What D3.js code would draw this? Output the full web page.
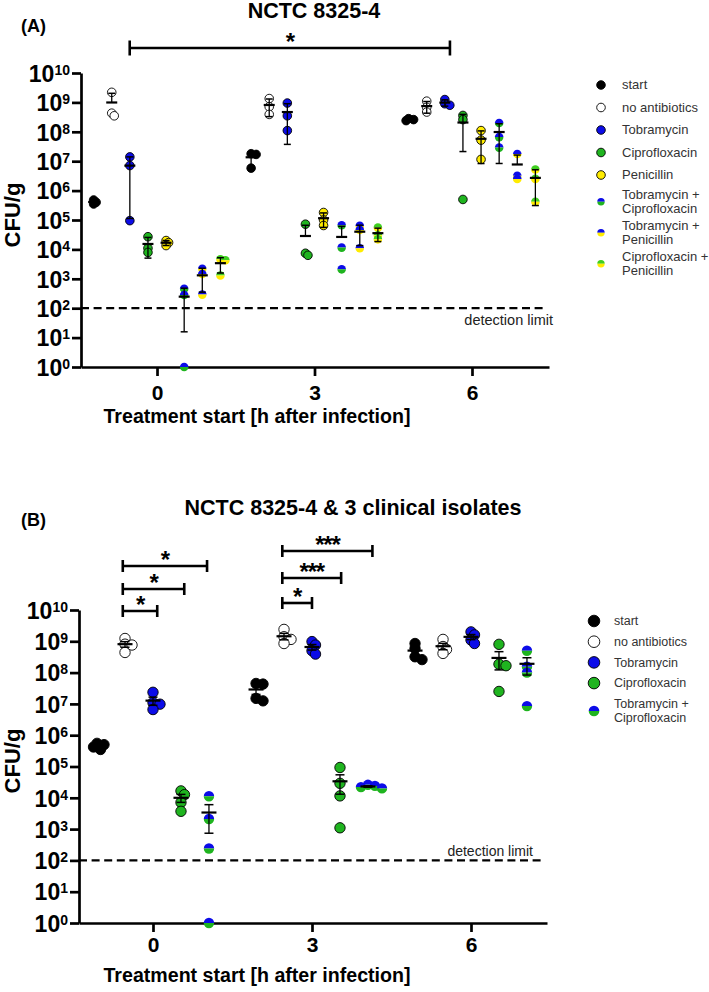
<!DOCTYPE html>
<html lang="en">
<head>
<meta charset="utf-8">
<title>CFU/g after treatment</title>
<script src="https://cdn.jsdelivr.net/npm/d3@7"></script>
<style>
  body { margin: 0; background: #fff; }
  svg text { font-family: "Liberation Sans", Arial, sans-serif; }
</style>
</head>
<body>
<script>
// ---- data: CFU/g per mouse ----
var times = [0, 3, 6];
var exponents = [0, 1, 2, 3, 4, 5, 6, 7, 8, 9, 10];
var detectionLimit = 100;

var groupsA = ["start", "no antibiotics", "Tobramycin", "Ciprofloxacin", "Penicillin",
  "Tobramycin + Ciprofloxacin", "Tobramycin + Penicillin", "Ciprofloxacin + Penicillin"];
var groupsB = ["start", "no antibiotics", "Tobramycin", "Ciprofloxacin", "Tobramycin + Ciprofloxacin"];

// panel A, one row per time point (0, 3, 6 h)
var aStart      = [[4.8e5, 4.0e5, 3.5e5], [1.8e7, 1.7e7, 5.8e6], [2.8e8, 2.4e8, 2.6e8]];
var aNoAb       = [[2.2e9, 4.3e8, 3.5e8], [1.35e9, 7.1e8, 3.9e8], [1.1e9, 6.8e8, 4.7e8]];
var aTobra      = [[1.4e7, 7.1e6, 9.5e4], [9.5e8, 3.5e8, 1.1e8], [1.25e9, 9e8, 8e8]];
var aCipro      = [[2.7e4, 1.1e4, 7.9e3], [7.2e4, 7.4e3, 6.3e3], [3.6e8, 2.6e8, 5e5]];
var aPen        = [[2e4, 1.7e4, 1.35e4], [1.8e5, 1e5, 6.5e4], [1.1e8, 5.2e7, 1.15e7]];
var aTobraCipro = [[460, 280, 1], [6.6e4, 1.15e4, 2.1e3], [2e8, 6.6e7, 2.9e7]];
var aTobraPen   = [[2.2e3, 1.45e3, 290], [6.3e4, 4.6e4, 1.1e4], [1.75e7, 3.2e6, 2.5e6]];
var aCiproPen   = [[4.6e3, 4.3e3, 1.3e3], [5.5e4, 3e4, 2.2e4], [5.2e6, 2.5e6, 4.2e5]];

// panel B
var bStart      = [[5.5e5, 5e5, 4.2e5, 3.5e5], [4.5e7, 4.3e7, 1.5e7, 1.25e7], [8.5e8, 5.9e8, 3.2e8, 2.6e8]];
var bNoAb       = [[1.23e9, 8.1e8, 7.6e8, 4.4e8], [2.4e9, 1.4e9, 1.15e9, 8.5e8], [1.15e9, 6.8e8, 5.5e8, 4.1e8]];
var bTobra      = [[2.35e7, 1.1e7, 9.8e6, 6.6e6], [9.8e8, 7.6e8, 5e8, 3.9e8], [2e9, 1.6e9, 1.1e9, 8.5e8]];
var bCipro      = [[1.66e4, 1.26e4, 7.1e3, 3.7e3], [9.3e4, 2.9e4, 1.15e4, 1.1e3], [8e8, 1.86e8, 1.66e8, 2.5e7]];
var bTobraCipro = [[1.12e4, 2.1e3, 240, 1], [2.6e4, 2.4e4, 2.2e4, 2e4], [5e8, 1.55e8, 1e8, 8.5e6]];

// significance brackets, ends in hours
var sigA = [{ from: -0.52, to: 5.58, label: "*" }];
var sigB = [
  { from: -0.57, to: 0.08, label: "*" },
  { from: -0.57, to: 0.59, label: "*" },
  { from: -0.57, to: 1.02, label: "*" },
  { from: 2.44, to: 3.0, label: "*" },
  { from: 2.44, to: 3.55, label: "***" },
  { from: 2.44, to: 4.14, label: "***" }
];

// ---- styles ----
var blue = "#0c0ce8", green = "#1fb41f", lime = "#3fcf1f", yellow = "#ffec00";
var look = {
  "start": { fill: "#000" },
  "no antibiotics": { fill: "#fff" },
  "Tobramycin": { fill: blue },
  "Ciprofloxacin": { fill: green },
  "Penicillin": { fill: yellow },
  "Tobramycin + Ciprofloxacin": { top: blue, bottom: green },
  "Tobramycin + Penicillin": { top: blue, bottom: yellow },
  "Ciprofloxacin + Penicillin": { top: lime, bottom: yellow }
};

var svg = d3.select("body").append("svg").attr("width", 709).attr("height", 992);

function marker(g, cx, cy, r, st) {
  if (st.top) {
    var arc = d3.arc().innerRadius(0).outerRadius(r);
    g.append("path").attr("transform", "translate(" + cx + "," + cy + ")")
      .attr("d", arc({ startAngle: -Math.PI / 2, endAngle: Math.PI / 2 })).attr("fill", st.top);
    g.append("path").attr("transform", "translate(" + cx + "," + cy + ")")
      .attr("d", arc({ startAngle: Math.PI / 2, endAngle: 3 * Math.PI / 2 })).attr("fill", st.bottom);
  } else {
    g.append("circle").attr("cx", cx).attr("cy", cy).attr("r", r)
      .attr("fill", st.fill).attr("stroke", "#000").attr("stroke-width", 0.9);
  }
}

// spread overlapping points sideways
function spread(vals, y, minD, step) {
  var order = vals.map(function (v, i) { return i; }).sort(function (a, b) { return vals[b] - vals[a]; });
  var placed = [], off = [];
  order.forEach(function (i) {
    var py = y(vals[i]);
    for (var k = 0; k < 30; k++) {
      var dx = k === 0 ? 0 : (k % 2 ? 1 : -1) * Math.ceil(k / 2) * step;
      var ok = placed.every(function (p) { return Math.hypot(p.dx - dx, p.py - py) >= minD; });
      if (ok) { off[i] = dx; placed.push({ dx: dx, py: py }); break; }
    }
  });
  return off;
}

function drawPanel(p) {
  var g = svg.append("g");
  var x = d3.scaleLinear().domain(p.xDomain).range([p.left, p.right]);
  var y = d3.scaleLog().domain([1, 1e10]).range([p.bottom, p.top]);
  var n = p.groups.length;

  // axes
  var yAxis = d3.axisLeft(y).tickValues(exponents.map(function (e) { return Math.pow(10, e); }))
    .tickSize(9).tickSizeOuter(0).tickPadding(2);
  var ya = g.append("g").attr("transform", "translate(" + p.left + ",0)").call(yAxis)
    .attr("font-size", 23).attr("font-weight", "bold").attr("font-family", null);
  ya.select(".domain").attr("stroke-width", 2.7);
  ya.selectAll(".tick line").attr("stroke-width", 2.7);
  ya.selectAll(".tick text").attr("dy", "0.36em").attr("fill", "#000").text(null).each(function (d) {
    var t = d3.select(this);
    t.append("tspan").text("10");
    t.append("tspan").attr("dy", -7).attr("font-size", 14).text(Math.round(Math.log10(d)));
  });

  var xAxis = d3.axisBottom(x).tickValues(times).tickSize(9).tickSizeOuter(0).tickPadding(p.xPad);
  var xa = g.append("g").attr("transform", "translate(0," + p.bottom + ")").call(xAxis)
    .attr("font-size", 21).attr("font-weight", "bold").attr("font-family", null);
  xa.select(".domain").attr("stroke-width", 2.7);
  xa.selectAll(".tick line").attr("stroke-width", 2.7);
  xa.selectAll(".tick text").attr("fill", "#000");

  // titles and labels
  g.append("text").attr("x", p.titleX).attr("y", p.titleY).attr("text-anchor", "middle")
    .attr("font-size", 21.5).attr("font-weight", "bold").text(p.title);
  g.append("text").attr("x", 21).attr("y", p.letterY).attr("font-size", 18)
    .attr("font-weight", "bold").text(p.letter);
  g.append("text").attr("transform", "translate(19.5," + p.yLabelY + ") rotate(-90)")
    .attr("text-anchor", "middle").attr("font-size", 22).attr("font-weight", "bold").text("CFU/g");
  g.append("text").attr("x", 257).attr("y", p.xLabelY).attr("text-anchor", "middle")
    .attr("font-size", 19.6).attr("font-weight", "bold").text("Treatment start [h after infection]");

  // detection limit
  g.append("line").attr("x1", p.left).attr("x2", p.right - 2)
    .attr("y1", y(detectionLimit)).attr("y2", y(detectionLimit))
    .attr("stroke", "#000").attr("stroke-width", 2.3).attr("stroke-dasharray", "8,4.6");
  g.append("text").attr("x", p.dlX).attr("y", y(detectionLimit) + p.dlDy).attr("text-anchor", "end")
    .attr("font-size", p.dlSize).attr("fill", "#222").text("detection limit");

  // points, mean and error bars
  times.forEach(function (t, ti) {
    p.groups.forEach(function (name, gi) {
      var vals = p.series[gi][ti];
      var cx = x(t + (gi - (n - 1) / 2) * p.groupStep);
      var off = spread(vals, y, p.minD, p.step);
      vals.forEach(function (v, i) { marker(g, cx + off[i], y(v), p.r, look[name]); });

      var m = d3.mean(vals), sd = d3.deviation(vals);
      var err = p.sem ? sd / Math.sqrt(vals.length) : sd;
      var hi = m + err, lo = m - err;
      var eb = g.append("g").attr("stroke", "#000");
      eb.append("line").attr("x1", cx).attr("x2", cx).attr("y1", y(lo > 0 ? Math.max(lo, 1) : m)).attr("y2", y(hi))
        .attr("stroke-width", 1.3);
      eb.append("line").attr("x1", cx - p.capW / 2).attr("x2", cx + p.capW / 2)
        .attr("y1", y(hi)).attr("y2", y(hi)).attr("stroke-width", 1.5);
      if (lo > 0) {
        eb.append("line").attr("x1", cx - p.capW / 2).attr("x2", cx + p.capW / 2)
          .attr("y1", y(Math.max(lo, 1))).attr("y2", y(Math.max(lo, 1))).attr("stroke-width", 1.5);
      }
      eb.append("line").attr("x1", cx - p.meanW / 2).attr("x2", cx + p.meanW / 2)
        .attr("y1", y(m)).attr("y2", y(m)).attr("stroke-width", 2.2);
    });
  });

  // significance brackets
  p.sig.forEach(function (s, i) {
    var by = p.sigY[i], x1 = x(s.from), x2 = x(s.to);
    var sg = g.append("g").attr("stroke", "#000").attr("stroke-width", 2.6);
    sg.append("line").attr("x1", x1).attr("x2", x2).attr("y1", by).attr("y2", by);
    sg.append("line").attr("x1", x1).attr("x2", x1).attr("y1", by - p.sigCap).attr("y2", by + p.sigCap);
    sg.append("line").attr("x1", x2).attr("x2", x2).attr("y1", by - p.sigCap).attr("y2", by + p.sigCap);
    g.append("text").attr("x", (x1 + x2) / 2).attr("y", by - 12 + 0.58 * 24)
      .attr("text-anchor", "middle").attr("font-size", 24).attr("font-weight", "bold")
      .attr("letter-spacing", -1.2).text(s.label);
  });

  // legend
  var ly = p.legendTop;
  p.groups.forEach(function (name) {
    var lines = name.indexOf(" + ") > 0 ? [name.split(" + ")[0] + " +", name.split(" + ")[1]] : [name];
    var h = lines.length > 1 ? p.rowH2 : p.rowH1;
    var cy = ly + h / 2;
    marker(g, p.legendX, cy, lines.length > 1 ? p.lr2 : p.lr1, look[name]);
    lines.forEach(function (l, li) {
      g.append("text").attr("x", p.legendX + p.legendGap)
        .attr("y", cy + (li - (lines.length - 1) / 2) * p.lineH + 0.34 * p.legendSize)
        .attr("font-size", p.legendSize).attr("fill", "#333").text(l);
    });
    ly += h;
  });
}

drawPanel({
  groups: groupsA,
  series: [aStart, aNoAb, aTobra, aCipro, aPen, aTobraCipro, aTobraPen, aCiproPen],
  xDomain: [-1.448, 7.467], left: 81, right: 549, top: 73, bottom: 367,
  groupStep: 0.345, r: 4.3, minD: 3, step: 2.5, sem: false,
  capW: 7, meanW: 11, xPad: 9,
  title: "NCTC 8325-4", titleX: 314, titleY: 18, letter: "(A)", letterY: 32,
  yLabelY: 215, xLabelY: 423,
  dlX: 553, dlDy: 17, dlSize: 14.5,
  sig: sigA, sigY: [48], sigCap: 7.5,
  legendX: 601, legendGap: 21, legendTop: 73.75, rowH1: 22.5, rowH2: 31,
  lr1: 4.3, lr2: 3.7, lineH: 14.5, legendSize: 13
});

drawPanel({
  groups: groupsB,
  series: [bStart, bNoAb, bTobra, bCipro, bTobraCipro],
  xDomain: [-1.396, 7.434], left: 79, right: 547, top: 610, bottom: 923,
  groupStep: 0.528, r: 5.2, minD: 4.5, step: 3.5, sem: true,
  capW: 9, meanW: 15, xPad: 5,
  title: "NCTC 8325-4 & 3 clinical isolates", titleX: 353, titleY: 515, letter: "(B)", letterY: 526,
  yLabelY: 761, xLabelY: 982,
  dlX: 533, dlDy: -4, dlSize: 14,
  sig: sigB, sigY: [611, 589, 566, 603, 578, 551], sigCap: 6,
  legendX: 594, legendGap: 20, legendTop: 610.65, rowH1: 20.7, rowH2: 35,
  lr1: 5.8, lr2: 5.3, lineH: 14, legendSize: 12.5
});
</script>
</body>
</html>
